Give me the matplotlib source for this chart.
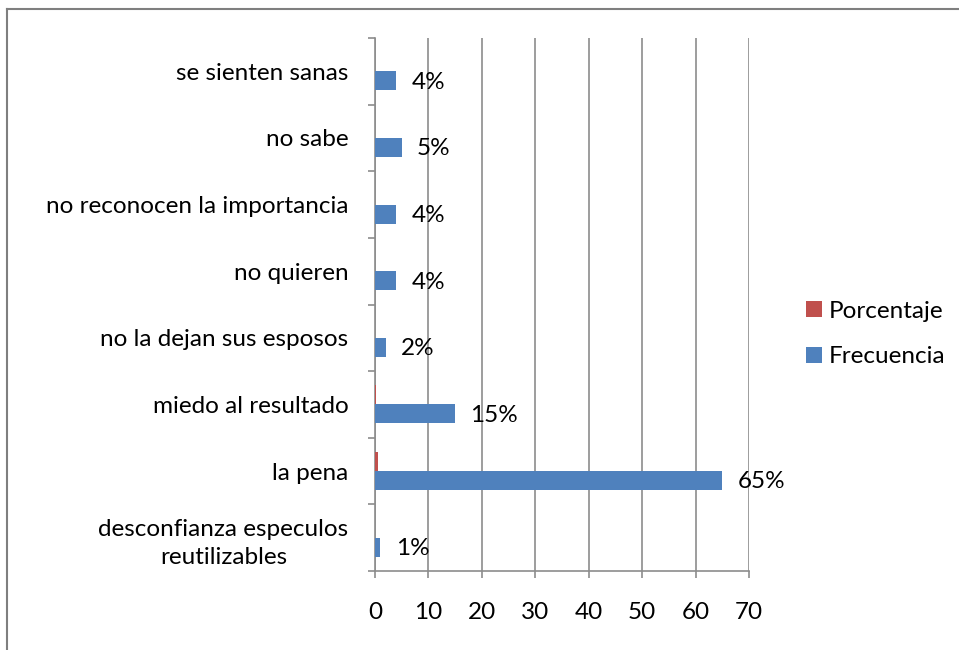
import matplotlib
matplotlib.use("Agg")
import matplotlib.pyplot as plt
from matplotlib.lines import Line2D
import numpy as np

categories = [
    "desconfianza especulos\nreutilizables",
    "la pena",
    "miedo al resultado",
    "no la dejan sus esposos",
    "no quieren",
    "no reconocen la importancia",
    "no sabe",
    "se sienten sanas",
]
frecuencia = [1, 65, 15, 2, 4, 4, 5, 4]
porcentaje = [0.01, 0.65, 0.15, 0.02, 0.04, 0.04, 0.05, 0.04]
xticks = [0, 10, 20, 30, 40, 50, 60, 70]

BLUE = "#4F81BD"
RED = "#C0504D"
GRID = "#8C8C8C"
FONT = "Lato"
FS = 17.5

plt.rcParams["font.family"] = [FONT, "DejaVu Sans"]

fig = plt.figure(figsize=(9.59, 6.5), dpi=100)
ax = fig.add_axes([375 / 959, 1 - 571 / 650, (749 - 375) / 959, (571 - 38) / 650])

y = np.arange(len(categories))
h = 0.285
b_freq = ax.barh(y - h / 2, frecuencia, height=h, color=BLUE, label="Frecuencia", zorder=3)
b_pct = ax.barh(y + h / 2, porcentaje, height=h, color=RED, label="Porcentaje", zorder=3)

for yi, f, p in zip(y, frecuencia, porcentaje):
    ax.annotate(f"{p * 100:.0f}%", xy=(f, yi - h / 2), xytext=(11, -1),
                textcoords="offset points", ha="left", va="center",
                fontsize=FS, color="black")

ax.set_xlim(0, 70)
ax.set_ylim(-0.5, len(categories) - 0.5)
ax.set_xticks(xticks)
ax.set_xticklabels([str(t) for t in xticks], fontsize=FS)
ax.set_yticks(y)
ax.set_yticklabels(categories, fontsize=FS, multialignment="center", linespacing=1.45)
ax.set_yticks(np.arange(-0.5, len(categories), 1), minor=True)
ax.tick_params(axis="y", which="major", length=0, pad=19)
ax.tick_params(axis="y", which="minor", length=5, color=GRID, width=1.2, direction="out")
ax.tick_params(axis="x", length=5, color=GRID, width=1.2, direction="out", pad=17)

ax.grid(axis="x", color=GRID, linewidth=1.2, zorder=0)
for s in ["top", "right"]:
    ax.spines[s].set_visible(False)
for s in ["left", "bottom"]:
    ax.spines[s].set_color(GRID)
    ax.spines[s].set_linewidth(1.2)

handles = [b_pct, b_freq]
fig.legend(handles, ["Porcentaje", "Frecuencia"], loc="center left",
           bbox_to_anchor=(784 / 959, 1 - 334 / 650), frameon=False,
           fontsize=FS, handlelength=0.65, handleheight=0.65,
           handletextpad=0.3, labelspacing=1.0)

# outer chart border (extends past right/bottom edges)
fig.add_artist(Line2D([7 / 959, 7 / 959], [0, 1 - 9 / 650], transform=fig.transFigure,
                      color="#7F7F7F", linewidth=1.5))
fig.add_artist(Line2D([7 / 959, 1], [1 - 9 / 650, 1 - 9 / 650], transform=fig.transFigure,
                      color="#7F7F7F", linewidth=1.5))

fig.savefig("out.png", dpi=100)
